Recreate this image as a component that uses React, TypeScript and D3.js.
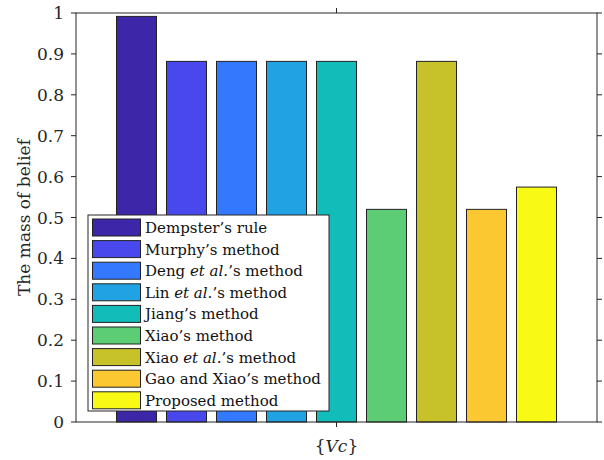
import React, { useEffect, useRef } from 'react';
import * as d3 from 'd3';

const group = ['{Vc}'];
const methods = [
  'Dempster’s rule',
  'Murphy’s method',
  'Deng et al.’s method',
  'Lin et al.’s method',
  'Jiang’s method',
  'Xiao’s method',
  'Xiao et al.’s method',
  'Gao and Xiao’s method',
  'Proposed method',
];
const values = [0.9917, 0.8817, 0.8817, 0.8817, 0.8817, 0.5199, 0.8817, 0.5199, 0.5744];
const colors = ['#3e26a8', '#4848ec', '#3479fd', '#20a2e3', '#12bdb9', '#5ccd75', '#c7c12a', '#fcc831', '#f8f915'];
const yTicks = [0, 0.1, 0.2, 0.3, 0.4, 0.5, 0.6, 0.7, 0.8, 0.9, 1];

const W = 604;
const H = 460;
const FONT = 'DejaVu Serif, serif';

export default function App() {
  const ref = useRef<SVGSVGElement>(null);

  useEffect(() => {
    if (!ref.current) return;
    const svg = d3.select(ref.current);
    svg.selectAll('*').remove();

    const m = { top: 13, right: 7, bottom: 38, left: 76 };
    const x0 = d3.scaleBand().domain(group).range([m.left, W - m.right]);
    // bars take 9 * 50px around the centre of the group
    const x1 = d3.scaleBand().domain(methods).range([0, 450]).paddingInner(0.2).paddingOuter(0.1);
    const y = d3.scaleLinear().domain([0, 1]).range([H - m.bottom, m.top]);

    const cx = x0(group[0])! + x0.bandwidth() / 2;
    const g = svg.append('g').attr('transform', `translate(${cx - 225},0)`);

    g.selectAll('rect')
      .data(values)
      .enter()
      .append('rect')
      .attr('x', (d, i) => x1(methods[i])!)
      .attr('y', d => y(d))
      .attr('width', x1.bandwidth())
      .attr('height', d => y(0) - y(d))
      .attr('fill', (d, i) => colors[i])
      .attr('stroke', '#222')
      .attr('stroke-width', 1);

    // box
    svg.append('rect')
      .attr('x', m.left).attr('y', m.top)
      .attr('width', W - m.left - m.right).attr('height', H - m.top - m.bottom)
      .attr('fill', 'none').attr('stroke', '#262626').attr('stroke-width', 1);

    const tickLen = 5;
    const left = svg.append('g');
    yTicks.forEach(t => {
      left.append('line')
        .attr('x1', m.left - tickLen).attr('x2', m.left)
        .attr('y1', y(t)).attr('y2', y(t)).attr('stroke', '#262626');
      left.append('line')
        .attr('x1', W - m.right).attr('x2', W - m.right + tickLen)
        .attr('y1', y(t)).attr('y2', y(t)).attr('stroke', '#262626');
      left.append('text')
        .attr('x', m.left - 12).attr('y', y(t))
        .attr('text-anchor', 'end').attr('dominant-baseline', 'central')
        .attr('font-family', FONT).attr('font-size', 17).attr('fill', '#262626')
        .text(d3.format('~g')(t));
    });

    // x ticks top and bottom
    svg.append('line').attr('x1', cx).attr('x2', cx).attr('y1', y(0)).attr('y2', y(0) + tickLen).attr('stroke', '#262626');
    svg.append('line').attr('x1', cx).attr('x2', cx).attr('y1', m.top - tickLen).attr('y2', m.top).attr('stroke', '#262626');

    const xl = svg.append('text')
      .attr('x', cx).attr('y', 452)
      .attr('text-anchor', 'middle')
      .attr('font-family', FONT).attr('font-size', 17).attr('fill', '#262626');
    xl.append('tspan').text('{');
    xl.append('tspan').attr('font-style', 'italic').text('Vc');
    xl.append('tspan').text('}');

    svg.append('text')
      .attr('transform', `translate(30,${(m.top + H - m.bottom) / 2}) rotate(-90)`)
      .attr('text-anchor', 'middle')
      .attr('font-family', FONT).attr('font-size', 17).attr('fill', '#262626')
      .text('The mass of belief');

    // legend
    const lg = svg.append('g').attr('transform', 'translate(88,215)');
    lg.append('rect').attr('width', 241).attr('height', 196)
      .attr('fill', '#fff').attr('stroke', '#262626');
    const rowH = 21.6;
    methods.forEach((name, i) => {
      const ry = 4 + i * rowH;
      lg.append('rect').attr('x', 4.5).attr('y', ry).attr('width', 48).attr('height', 17)
        .attr('fill', colors[i]).attr('stroke', '#222');
      const t = lg.append('text').attr('x', 57).attr('y', ry + 14)
        .attr('font-family', FONT).attr('font-size', 15).attr('fill', '#111');
      const parts = name.split('et al.');
      if (parts.length > 1) {
        t.append('tspan').text(parts[0]);
        t.append('tspan').attr('font-style', 'italic').text('et al.');
        t.append('tspan').text(parts[1]);
      } else {
        t.text(name);
      }
    });
  }, []);

  return (
    <div style={{ position: 'absolute', left: 0, top: 0 }}>
      <svg ref={ref} width={W} height={H} style={{ display: 'block', background: '#fff' }} />
    </div>
  );
}
